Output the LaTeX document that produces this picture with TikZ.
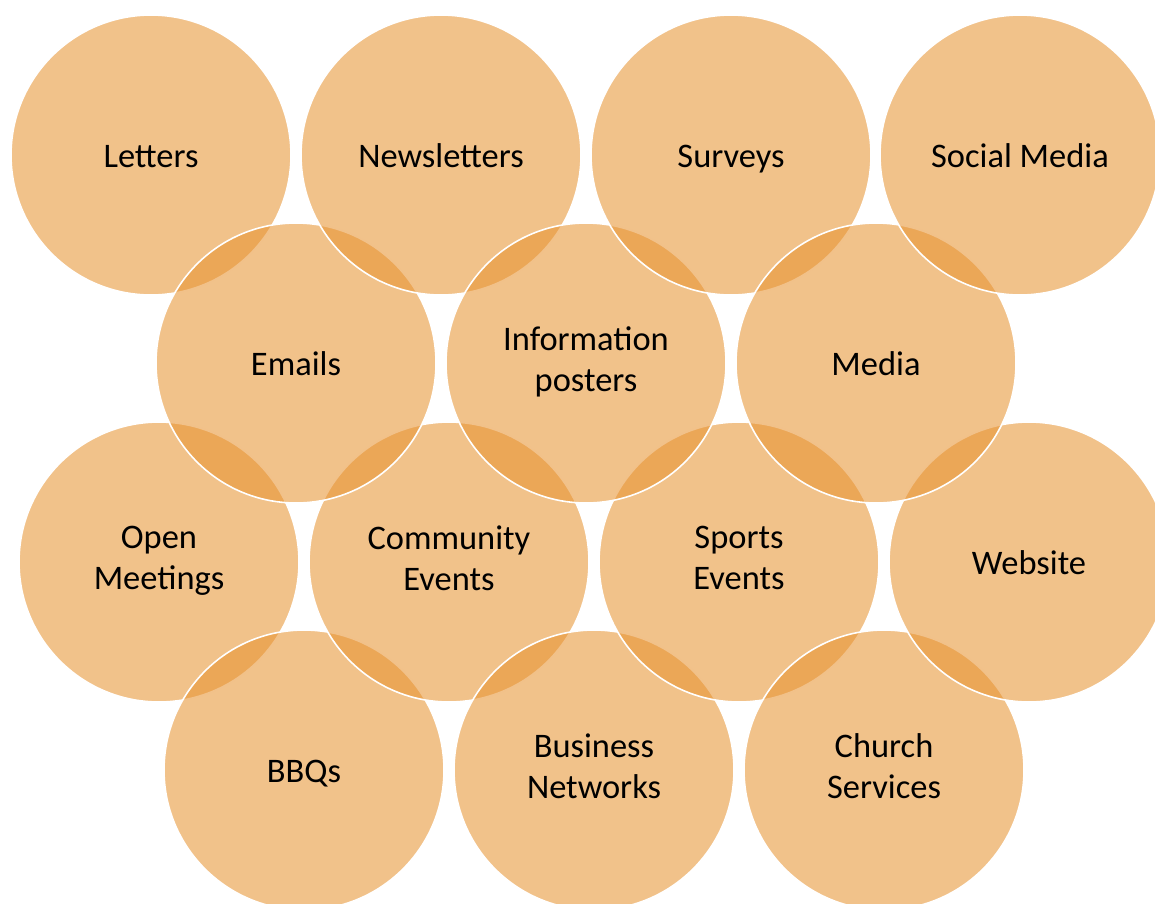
\documentclass[tikz,border=0pt]{standalone}
\usepackage{fontspec}
\setmainfont{Carlito}
\usepackage{xcolor}
\usepackage{tikz}
\definecolor{bubbleorange}{RGB}{231,147,49}
\newcommand{\bubblestrut}{\rule[-4.6pt]{0pt}{23pt}}

\begin{document}
\begin{tikzpicture}[
        x=0.02cm, y=-0.02cm,
        bubble/.style={circle, minimum size=5.6cm, inner sep=0pt, fill=bubbleorange, fill opacity=0.57, text opacity=1, draw=white, draw opacity=1, line width=0.9pt, align=center, text=black, font=\fontsize{19.6}{23}\selectfont, execute at begin node=\bubblestrut, execute at end node=\bubblestrut}
        ]
        % Frame of the page
        \path[use as bounding box, clip] (0,0) rectangle (1155,903);

        % Lower two rows
        \node[bubble] (meetings) at (159,562) {Open\\Meetings};
        \node[bubble] (bbqs) at (304,770) {BBQs};
        \node[bubble] (community) at (449,562) {Community\\Events};
        \node[bubble] (business) at (594,770) {Business\\Networks};
        \node[bubble] (sports) at (739,562) {Sports\\Events};
        \node[bubble] (church) at (884,770) {Church\\Services};
        \node[bubble] (website) at (1029,562) {Website};

        % Upper two rows
        \node[bubble] (letters) at (151,155) {Letters};
        \node[bubble] (emails) at (296,363) {Emails};
        \node[bubble] (newsletters) at (441,155) {Newsletters};
        \node[bubble] (posters) at (586,363) {Information\\posters};
        \node[bubble] (surveys) at (731,155) {Surveys};
        \node[bubble] (media) at (876,363) {Media};
        \node[bubble] (social) at (1020,155) {Social Media};
\end{tikzpicture}
\end{document}
